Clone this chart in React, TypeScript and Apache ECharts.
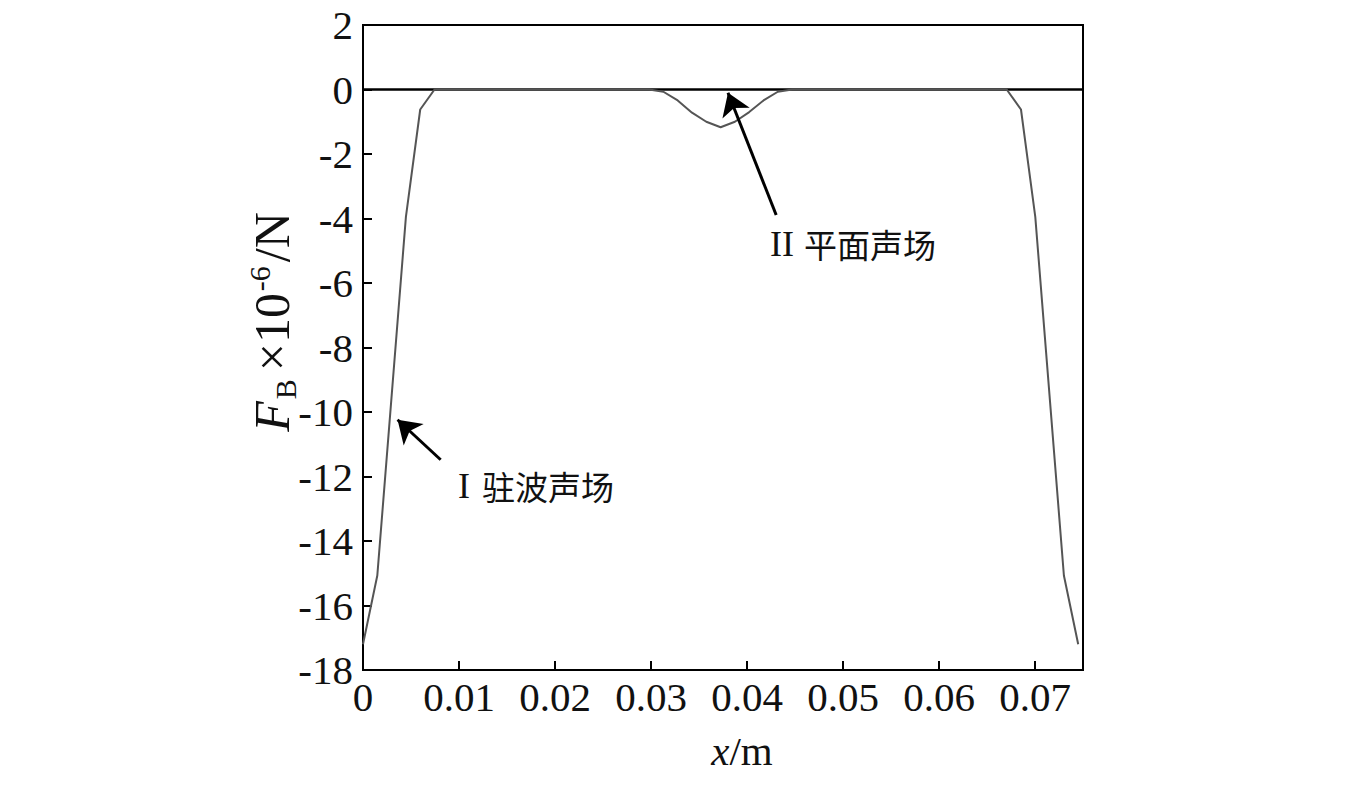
import React, { useEffect, useRef } from "react";
import * as echarts from "echarts";

const xValues = [0, 0.00149, 0.00447, 0.00596, 0.00745, 0.0298, 0.03129, 0.03278, 0.03427, 0.03576, 0.03725, 0.03874, 0.04023, 0.04172, 0.04321, 0.0447, 0.06705, 0.06854, 0.07003, 0.07301, 0.0745];
const forceValues = [-17.2, -15.07, -3.95, -0.62, 0, 0, -0.07, -0.34, -0.72, -1.0, -1.17, -1.0, -0.7, -0.34, -0.07, 0, 0, -0.62, -3.95, -15.07, -17.2];
const zeroLineX = [0, 0.075];
const zeroLineY = [0, 0];
const xTicks = [0, 0.01, 0.02, 0.03, 0.04, 0.05, 0.06, 0.07];

const SERIF = "'Liberation Serif', 'Times New Roman', serif";
const CJK = "'Noto Sans CJK SC', sans-serif";

export default function App() {
  const ref = useRef<HTMLDivElement>(null);
  useEffect(() => {
    document.body.style.margin = "0";
    const chart = echarts.init(ref.current!, null, { renderer: "svg" });
    const data = xValues.map((x, i) => [x, forceValues[i]]);
    const zero = zeroLineX.map((x, i) => [x, zeroLineY[i]]);
    chart.setOption({
      animation: false,
      backgroundColor: "#ffffff",
      grid: {
        left: 363,
        top: 25,
        width: 720,
        height: 645,
        show: true,
        borderColor: "#000",
        borderWidth: 2,
        backgroundColor: "transparent",
      },
      xAxis: {
        type: "value",
        min: 0,
        max: 0.075,
        interval: 0.01,
        splitLine: { show: false },
        axisLine: { onZero: false, lineStyle: { color: "#000", width: 2 } },
        axisTick: { inside: true, length: 9, lineStyle: { color: "#000", width: 2 } },
        axisLabel: {
          color: "#111",
          fontFamily: SERIF,
          fontSize: 41,
          margin: 6,
          showMaxLabel: false,
          formatter: (v: number) => {
            const hit = xTicks.find((t) => Math.abs(t - v) < 1e-9);
            if (hit === undefined) return "";
            return hit === 0 ? "0" : hit.toFixed(2);
          },
        },
        name: "{i|x}{n|/m}",
        nameLocation: "middle",
        nameGap: 60,
        nameTextStyle: {
          padding: [0, 0, 0, 38],
          rich: {
            i: { fontFamily: SERIF, fontStyle: "italic", fontSize: 41, color: "#111" },
            n: { fontFamily: SERIF, fontSize: 41, color: "#111" },
          },
        },
      },
      yAxis: {
        type: "value",
        min: -18,
        max: 2,
        interval: 2,
        splitLine: { show: false },
        axisLine: { show: true, lineStyle: { color: "#000", width: 2 } },
        axisTick: { inside: true, length: 9, lineStyle: { color: "#000", width: 2 } },
        axisLabel: {
          color: "#111",
          fontFamily: SERIF,
          fontSize: 41,
          margin: 10,
        },
      },
      series: [
        {
          type: "line",
          data: zero,
          symbol: "none",
          lineStyle: { color: "#000", width: 2.5 },
          z: 1,
          markLine: {
            silent: true,
            symbol: ["none", "arrow"],
            symbolSize: 22,
            label: { show: false },
            lineStyle: { color: "#000", width: 3, type: "solid" },
            data: [
              [{ coord: [0.00809, -11.48] }, { coord: [0.0036, -10.24] }],
              [{ coord: [0.04304, -3.89] }, { coord: [0.03802, -0.1] }],
            ],
          },
        },
        {
          type: "line",
          data,
          symbol: "none",
          lineStyle: { color: "#555", width: 2 },
          z: 2,
        },
      ],
      graphic: [
        {
          type: "text",
          x: 272,
          y: 322,
          rotation: Math.PI / 2,
          style: {
            text: "{i|F}{sub|B}{n|×10}{sup|-6}{n2|/N}",
            align: "center",
            verticalAlign: "middle",
            rich: {
              i: { fontFamily: SERIF, fontStyle: "italic", fontSize: 50, fill: "#111", lineHeight: 56, verticalAlign: "middle", padding: [0, 2, 0, 0] },
              sub: { fontFamily: SERIF, fontSize: 30, fill: "#111", lineHeight: 30, verticalAlign: "bottom", padding: [0, 8, 0, 0] },
              n: { fontFamily: SERIF, fontSize: 50, fill: "#111", lineHeight: 56, verticalAlign: "middle", padding: [0, 2, 0, 0] },
              sup: { fontFamily: SERIF, fontSize: 30, fill: "#111", lineHeight: 30, verticalAlign: "top", padding: [0, 4, 0, 0] },
              n2: { fontFamily: SERIF, fontSize: 50, fill: "#111", lineHeight: 56, verticalAlign: "middle" },
            },
          },
        },
        {
          type: "text",
          left: 458,
          top: 468,
          style: {
            text: "{r|I}{c|驻波声场}",
            rich: {
              r: { fontFamily: SERIF, fontSize: 36, fill: "#111", padding: [0, 12, 0, 0] },
              c: { fontFamily: CJK, fontSize: 33, fill: "#111" },
            },
          },
        },
        {
          type: "text",
          left: 770,
          top: 226,
          style: {
            text: "{r|II}{c|平面声场}",
            rich: {
              r: { fontFamily: SERIF, fontSize: 36, fill: "#111", padding: [0, 10, 0, 0] },
              c: { fontFamily: CJK, fontSize: 33, fill: "#111" },
            },
          },
        },
      ],
    });
    return () => chart.dispose();
  }, []);
  return <div ref={ref} style={{ width: 1354, height: 787 }} />;
}
